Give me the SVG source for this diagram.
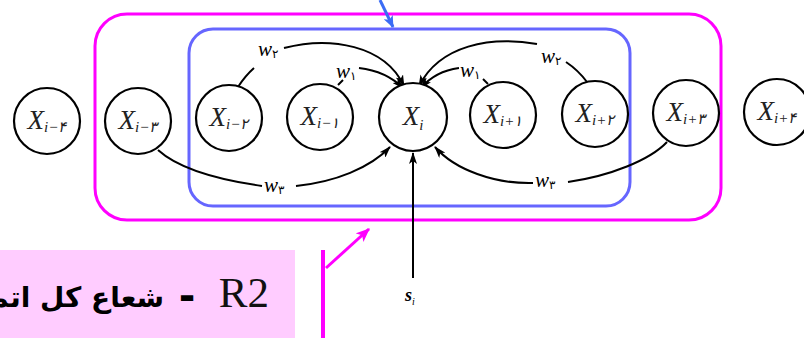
<svg xmlns="http://www.w3.org/2000/svg" width="804" height="338" viewBox="0 0 804 338">
<defs>
<marker id="ah" viewBox="0 0 12 8" refX="11" refY="4" markerWidth="12" markerHeight="8" markerUnits="userSpaceOnUse" orient="auto">
<path d="M0,0 L12,4 L0,8 L3,4 Z" fill="#000"/>
</marker>
<marker id="ahb" viewBox="0 0 12 10" refX="11" refY="5" markerWidth="12" markerHeight="10" markerUnits="userSpaceOnUse" orient="auto">
<path d="M0,0 L12,5 L0,10 L3,5 Z" fill="#3b6cf5"/>
</marker>
<marker id="ahm" viewBox="0 0 12 10" refX="11" refY="5" markerWidth="14" markerHeight="12" markerUnits="userSpaceOnUse" orient="auto">
<path d="M0,0 L12,5 L0,10 L3,5 Z" fill="#ff00ff"/>
</marker>
</defs>
<style>
.node circle{fill:#fff;stroke:#000;stroke-width:2.2}
.lbl{font-family:"Liberation Serif","DejaVu Sans",serif;font-style:italic;font-size:27px;fill:#222}
.sub{font-size:15px}
.w{font-family:"Liberation Serif","DejaVu Sans",serif;font-style:italic;font-size:21px;fill:#000}
.ws{font-size:12px;font-style:normal}
.edge{fill:none;stroke:#000;stroke-width:2}
</style>
<rect x="0" y="250" width="295" height="88" fill="#ffccff"/>
<rect x="95" y="14" width="626" height="206" rx="32" fill="none" stroke="#ff00ff" stroke-width="3"/>
<rect x="189" y="29" width="441" height="177" rx="24" fill="none" stroke="#6666ff" stroke-width="3"/>
<g id="connectors">
<path class="edge" d="M238,87 Q245,76 254,68"/>
<path class="edge" d="M284,48 C330,36 385,45 404,86" marker-end="url(#ah)"/>
<path class="edge" d="M338,85 L343,80"/>
<path class="edge" d="M359,68 C376,70 390,75 403,88" marker-end="url(#ah)"/>
<path class="edge" d="M587,82 Q578,70 566,62"/>
<path class="edge" d="M537,44 C490,36 440,45 419,86" marker-end="url(#ah)"/>
<path class="edge" d="M488,84 L483,79"/>
<path class="edge" d="M459,68 C444,70 432,75 421,88" marker-end="url(#ah)"/>
<path class="edge" d="M158,150 C180,170 220,180 262,186"/>
<path class="edge" d="M296,186 C335,182 370,168 390,147" marker-end="url(#ah)"/>
<path class="edge" d="M667,142 C650,160 610,176 568,182"/>
<path class="edge" d="M533,183 C495,184 455,170 435,147" marker-end="url(#ah)"/>
<path class="edge" d="M413,278 L413,153" marker-end="url(#ah)"/>
<path d="M380,0 L393,27" fill="none" stroke="#3b6cf5" stroke-width="3" marker-end="url(#ahb)"/>
<path d="M323,250 L323,338" fill="none" stroke="#ff00ff" stroke-width="4"/>
<path d="M326,268 L369,229" fill="none" stroke="#ff00ff" stroke-width="3" marker-end="url(#ahm)"/>
</g>
<g id="n-4" class="node"><circle cx="47" cy="121" r="33"/><text class="lbl" x="47" y="129" text-anchor="middle">X<tspan class="sub" dy="3">i−۴</tspan></text></g>
<g id="n-3" class="node"><circle cx="138" cy="121" r="33"/><text class="lbl" x="138" y="129" text-anchor="middle">X<tspan class="sub" dy="3">i−۳</tspan></text></g>
<g id="n-2" class="node"><circle cx="229" cy="118" r="33"/><text class="lbl" x="229" y="126" text-anchor="middle">X<tspan class="sub" dy="3">i−۲</tspan></text></g>
<g id="n-1" class="node"><circle cx="320" cy="117" r="33"/><text class="lbl" x="320" y="125" text-anchor="middle">X<tspan class="sub" dy="3">i−۱</tspan></text></g>
<g id="n0" class="node"><circle cx="413" cy="117" r="34"/><text class="lbl" x="413" y="125" text-anchor="middle">X<tspan class="sub" dy="5">i</tspan></text></g>
<g id="n1" class="node"><circle cx="503" cy="115" r="33"/><text class="lbl" x="503" y="123" text-anchor="middle">X<tspan class="sub" dy="3">i+۱</tspan></text></g>
<g id="n2" class="node"><circle cx="595" cy="114" r="33"/><text class="lbl" x="595" y="122" text-anchor="middle">X<tspan class="sub" dy="3">i+۲</tspan></text></g>
<g id="n3" class="node"><circle cx="686" cy="113" r="33"/><text class="lbl" x="686" y="121" text-anchor="middle">X<tspan class="sub" dy="3">i+۳</tspan></text></g>
<g id="n4" class="node"><circle cx="777" cy="112" r="33"/><text class="lbl" x="777" y="120" text-anchor="middle">X<tspan class="sub" dy="3">i+۴</tspan></text></g>
<g id="labels">
<text class="w" x="258" y="56">w<tspan class="ws" dy="2">۲</tspan></text>
<text class="w" x="336" y="78">w<tspan class="ws" dy="2">۱</tspan></text>
<text class="w" x="460" y="77">w<tspan class="ws" dy="2">۱</tspan></text>
<text class="w" x="541" y="63">w<tspan class="ws" dy="2">۲</tspan></text>
<text class="w" x="264" y="192">w<tspan class="ws" dy="2">۳</tspan></text>
<text class="w" x="535" y="187">w<tspan class="ws" dy="2">۳</tspan></text>
<text class="w" x="405" y="301" style="font-size:18px;font-weight:bold">s<tspan class="ws" dy="4" style="font-style:italic;font-weight:normal;font-size:10px">i</tspan></text>
</g>
<g id="caption">
<text x="269" y="307" text-anchor="end" font-family="Liberation Serif, serif" font-size="43" fill="#111">R2</text>
<text x="187" y="310" text-anchor="middle" font-family="DejaVu Sans, sans-serif" font-weight="bold" font-size="40" fill="#000">-</text>
<text x="164" y="307" text-anchor="end" font-family="DejaVu Sans, sans-serif" font-weight="bold" font-size="28" fill="#000">شعاع کل اتم</text>
</g>
</svg>
